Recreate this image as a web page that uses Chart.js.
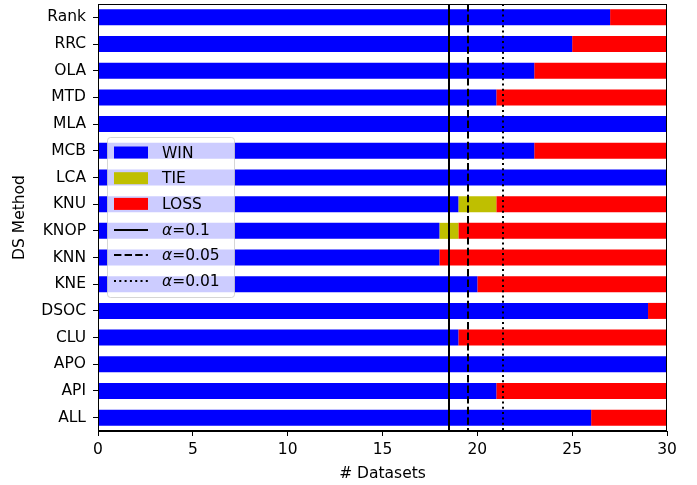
<!DOCTYPE html>
<html>
<head>
<meta charset="utf-8">
<script src="https://cdn.jsdelivr.net/npm/chart.js@4.4.0/dist/chart.umd.min.js"></script>
<style>
  html, body { margin: 0; padding: 0; background: #fff; }
  #wrap { width: 697px; height: 485px; }
</style>
</head>
<body>
<div id="wrap"><canvas id="chart" width="697" height="485"></canvas></div>
<script>
const methods = ["Rank", "RRC", "OLA", "MTD", "MLA", "MCB", "LCA", "KNU", "KNOP", "KNN", "KNE", "DSOC", "CLU", "APO", "API", "ALL"];
const wins   = [27, 25, 23, 21, 30, 23, 30, 19, 18, 18, 20, 29, 19, 30, 21, 26];
const ties   = [0, 0, 0, 0, 0, 0, 0, 2, 1, 0, 0, 0, 0, 0, 0, 0];
const losses = [3, 5, 7, 9, 0, 7, 0, 9, 11, 12, 10, 1, 11, 0, 9, 4];
const alphaLabels = ["0.1", "0.05", "0.01"];
const criticalValues = [18.51, 19.50, 21.37];
const lineDashes = [[], [7.4, 3.2], [2, 3.3]];

const FONT = "DejaVu Sans";
const FS = 15.5;

// vertical critical-value lines, frame and legend
const overlay = {
  id: "overlay",
  afterDatasetsDraw(chart) {
    const { ctx, chartArea: a, scales: { x } } = chart;
    ctx.save();
    ctx.strokeStyle = "#000";
    ctx.lineWidth = 2;
    criticalValues.forEach((v, i) => {
      const px = Math.round(x.getPixelForValue(v));
      ctx.setLineDash(lineDashes[i]);
      ctx.beginPath();
      ctx.moveTo(px, a.top);
      ctx.lineTo(px, a.bottom);
      ctx.stroke();
    });
    ctx.setLineDash([]);
    ctx.lineWidth = 1;
    ctx.strokeStyle = "#000";
    ctx.strokeRect(a.left + 0.5, a.top + 0.5, a.right - a.left - 1, a.bottom - a.top - 1);

    // legend
    const lx = 107, ly = 137, lw = 127, lh = 160;
    ctx.fillStyle = "rgba(255,255,255,0.8)";
    ctx.strokeStyle = "rgba(204,204,204,0.8)";
    ctx.beginPath();
    ctx.roundRect(lx + 0.5, ly + 0.5, lw, lh, 3);
    ctx.fill();
    ctx.stroke();

    const rowY = (i) => 152.5 + i * 25.7;
    const entries = [
      { label: "WIN", color: "#0000ff" },
      { label: "TIE", color: "#bfbf00" },
      { label: "LOSS", color: "#ff0000" }
    ];
    ctx.textBaseline = "middle";
    ctx.fillStyle = "#000";
    entries.forEach((e, i) => {
      ctx.fillStyle = e.color;
      ctx.fillRect(114, rowY(i) - 6, 34, 12);
      ctx.fillStyle = "#000";
      ctx.font = FS + "px '" + FONT + "'";
      ctx.fillText(e.label, 162, rowY(i) + 1);
    });
    alphaLabels.forEach((lab, j) => {
      const y = rowY(3 + j);
      ctx.strokeStyle = "#000";
      ctx.lineWidth = 2;
      ctx.setLineDash(lineDashes[j]);
      ctx.beginPath();
      ctx.moveTo(114, Math.round(y));
      ctx.lineTo(148, Math.round(y));
      ctx.stroke();
      ctx.setLineDash([]);
      ctx.fillStyle = "#000";
      ctx.font = "italic " + FS + "px '" + FONT + "'";
      ctx.fillText("α", 162, y + 1);
      const w = ctx.measureText("α").width;
      ctx.font = FS + "px '" + FONT + "'";
      ctx.fillText("=" + lab, 162 + w, y + 1);
    });
    ctx.restore();
  }
};

const ctx = document.getElementById("chart").getContext("2d");
new Chart(ctx, {
  type: "bar",
  data: {
    labels: methods,
    datasets: [
      { label: "WIN", data: wins, backgroundColor: "#0000ff" },
      { label: "TIE", data: ties, backgroundColor: "#bfbf00" },
      { label: "LOSS", data: losses, backgroundColor: "#ff0000" }
    ]
  },
  options: {
    indexAxis: "y",
    responsive: false,
    animation: false,
    layout: { padding: { top: 4, right: 30, left: 0, bottom: 0 } },
    datasets: { bar: { barPercentage: 0.6, categoryPercentage: 1.0, borderWidth: 0 } },
    plugins: { legend: { display: false }, tooltip: { enabled: false } },
    scales: {
      x: {
        stacked: true,
        min: 0,
        max: 30,
        ticks: { stepSize: 5, color: "#000", font: { family: FONT, size: FS }, padding: 5 },
        grid: { drawOnChartArea: false, drawTicks: true, tickLength: 5, color: "#000" },
        border: { color: "#000" },
        title: { display: true, text: "# Datasets", color: "#000", font: { family: FONT, size: FS }, padding: { top: 2, bottom: 2 } },
        afterFit(s) { s.height = 54; s.paddingLeft = 0; s.paddingRight = 0; }
      },
      y: {
        stacked: true,
        ticks: { color: "#000", font: { family: FONT, size: FS }, padding: 7 },
        grid: { offset: false, drawOnChartArea: false, drawTicks: true, tickLength: 5, color: "#000" },
        border: { color: "#000" },
        title: { display: true, text: "DS Method", color: "#000", font: { family: FONT, size: FS }, padding: { top: 11, bottom: 0 } },
        afterFit(s) { s.width = 98; s.paddingTop = 0; s.paddingBottom = 0; }
      }
    }
  },
  plugins: [overlay]
});
</script>
</body>
</html>
